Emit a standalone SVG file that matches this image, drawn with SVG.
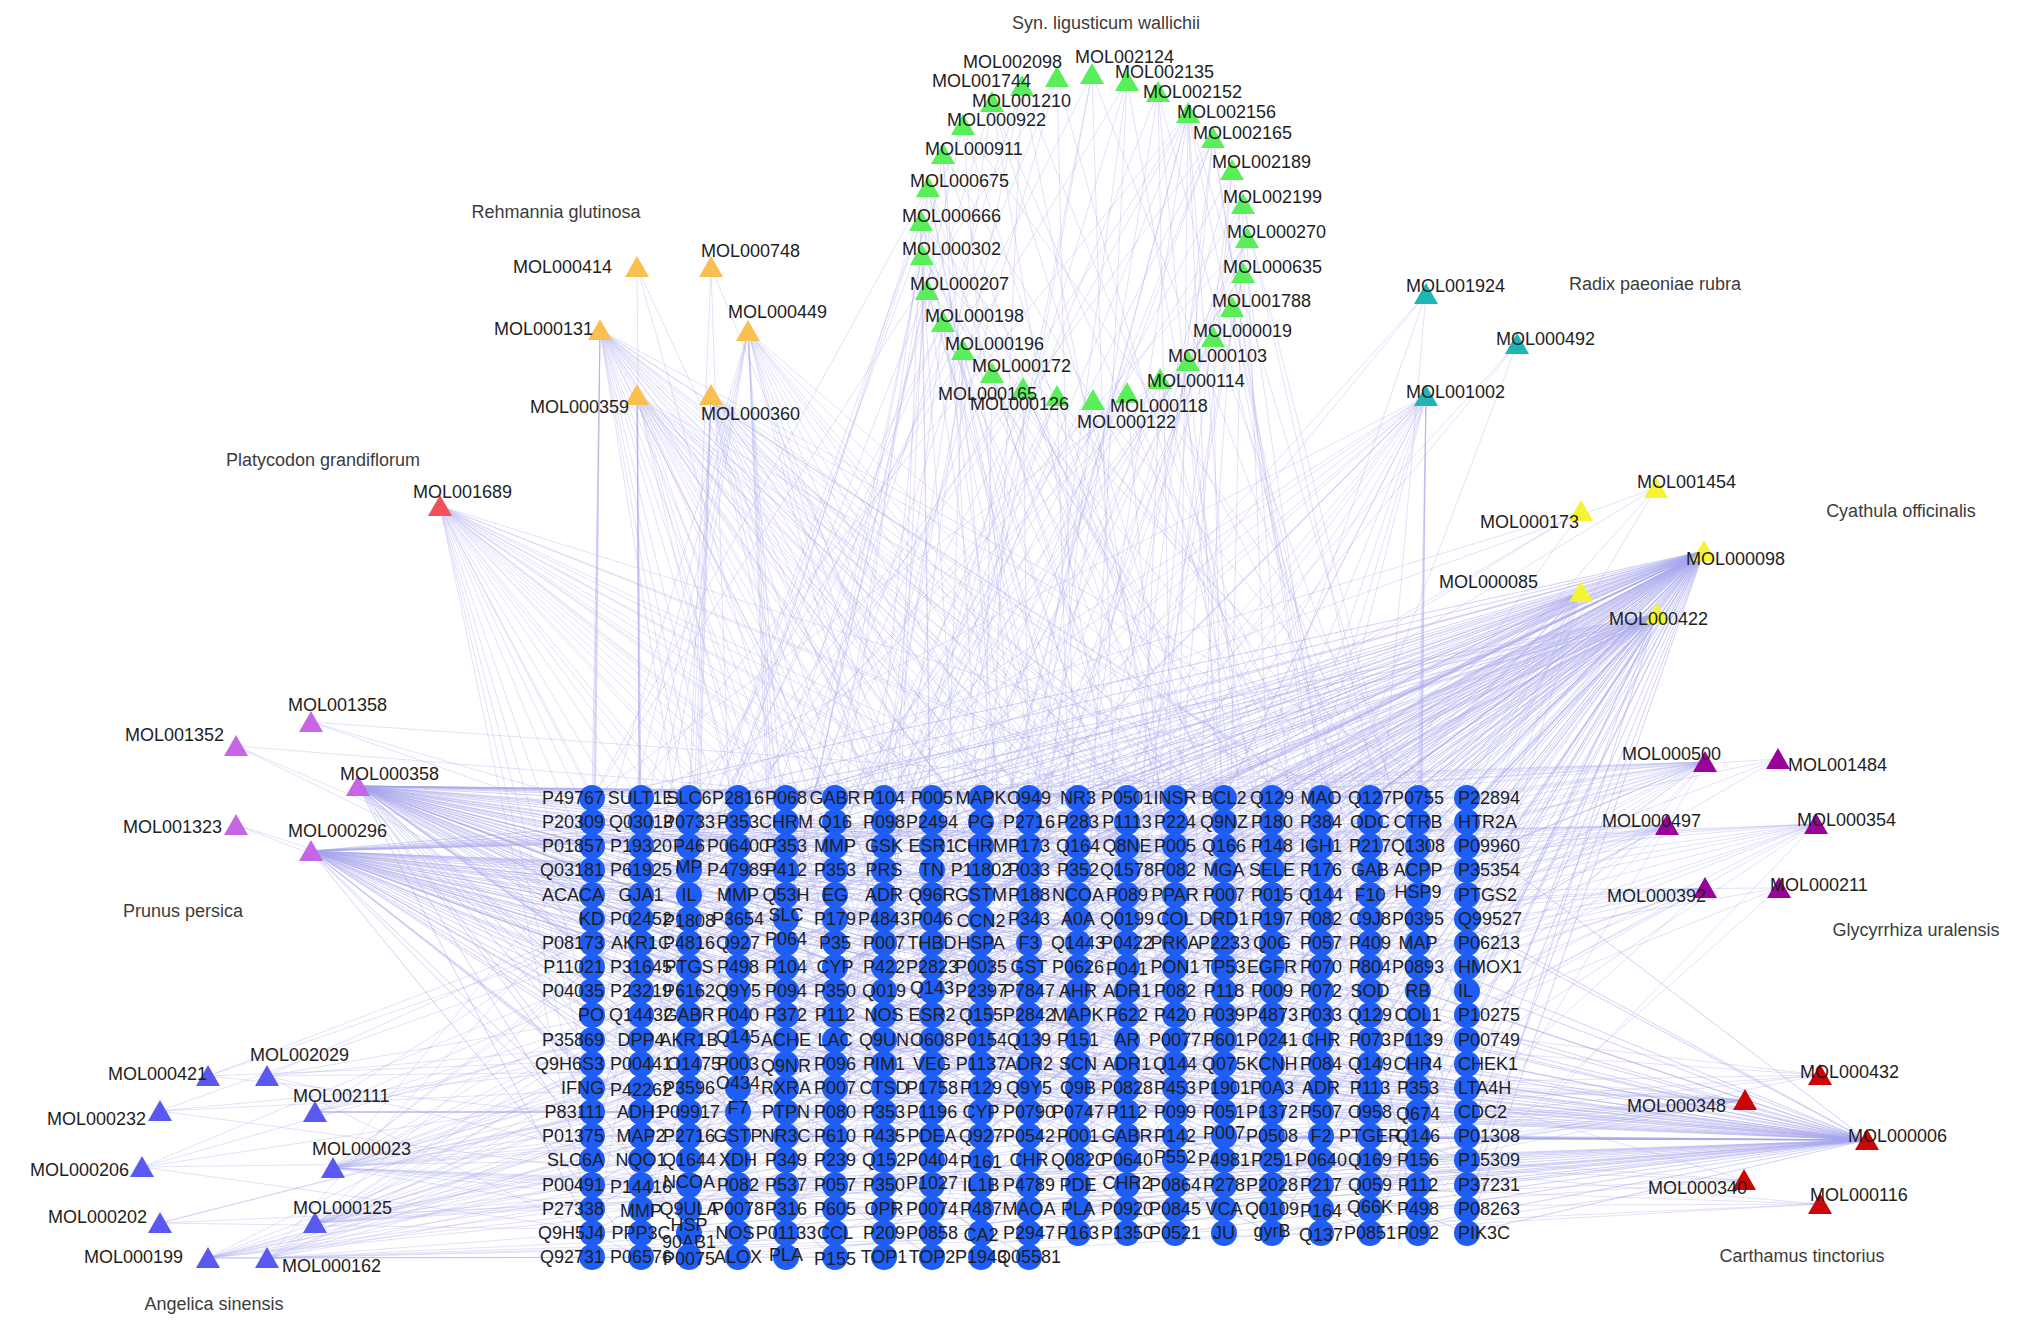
<svg xmlns="http://www.w3.org/2000/svg" width="2031" height="1327" viewBox="0 0 2031 1327">
<style>
text{font-family:"Liberation Sans",Arial,sans-serif;font-size:18px;fill:#1e1e1e}
#edges path{fill:none;stroke:#a6a6ee;stroke-opacity:.33;stroke-width:1}
#edges path.d{stroke-opacity:.5}
#grid circle{fill:#1f5ef6}
#grid text{text-anchor:middle}
#grid text.L{text-anchor:end}
#grid text.R{text-anchor:start}
.sp{fill:#3c3c3c;text-anchor:middle}
.gr{fill:#5bee5b}.or{fill:#f9c050}.pr{fill:#f2515b}.cy{fill:#1db5b5}.ye{fill:#f4f434}.pp{fill:#c865e6}.bl{fill:#5959f0}.dp{fill:#990399}.dr{fill:#cc0606}
</style>
<defs><path id="tri" d="M0-11L12 10H-12Z"/></defs>
<rect width="2031" height="1327" fill="#fff"/>
<g id="edges">
<path class="d" d="M1704 551L592 798M1704 551L689 798M1704 551L786 798M1704 551L884 798M1704 551L981 798M1704 551L1078 798M1704 551L1175 798M1704 551L1272 798M1704 551L1370 798M1704 551L1467 798M1704 551L592 846M1704 551L689 846M1704 551L786 846M1704 551L884 846M1704 551L981 846M1704 551L1078 846M1704 551L1175 846M1704 551L1272 846M1704 551L1370 846M1704 551L1467 846M1704 551L592 895M1704 551L689 895M1704 551L786 895M1704 551L884 895M1704 551L981 895M1704 551L1078 895M1704 551L1175 895M1704 551L1272 895M1704 551L1370 895M1704 551L1467 895M1704 551L592 943M1704 551L689 943M1704 551L786 943M1704 551L884 943M1704 551L981 943M1704 551L1078 943M1704 551L1175 943M1704 551L1272 943M1704 551L1370 943M1704 551L1467 943M1704 551L592 991M1704 551L689 991M1704 551L786 991M1704 551L884 991M1704 551L981 991M1704 551L1078 991M1704 551L1175 991M1704 551L1272 991M1704 551L1370 991M1704 551L1467 991M1704 551L592 1040M1704 551L689 1040M1704 551L786 1040M1704 551L884 1040M1704 551L981 1040M1704 551L1078 1040M1704 551L1175 1040M1704 551L1272 1040M1704 551L1370 1040M1704 551L1467 1040M1704 551L592 1088M1704 551L689 1088M1704 551L786 1088M1704 551L884 1088M1704 551L981 1088M1704 551L1078 1088M1704 551L1175 1088M1704 551L1272 1088M1704 551L1370 1088M1704 551L1467 1088M1704 551L592 1136M1704 551L689 1136M1704 551L786 1136M1704 551L884 1136M1704 551L981 1136M1704 551L1078 1136M1704 551L1175 1136M1704 551L1272 1136M1704 551L1370 1136M1704 551L1467 1136M1704 551L592 1185M1704 551L689 1185M1704 551L786 1185M1704 551L884 1185M1704 551L981 1185M1704 551L1078 1185M1704 551L1175 1185M1704 551L1272 1185M1704 551L1370 1185M1704 551L1467 1185M1704 551L592 1233M1704 551L689 1233M1704 551L786 1233M1704 551L884 1233M1704 551L981 1233M1704 551L1078 1233M1704 551L1175 1233M1704 551L1272 1233M1704 551L1370 1233M1704 551L1467 1233"/>
<path class="d" d="M1657 614L592 822M1657 614L689 822M1657 614L786 822M1657 614L884 822M1657 614L981 822M1657 614L1078 822M1657 614L1175 822M1657 614L1272 822M1657 614L1370 822M1657 614L1467 822M1657 614L592 919M1657 614L689 919M1657 614L786 919M1657 614L884 919M1657 614L981 919M1657 614L1078 919M1657 614L1175 919M1657 614L1272 919M1657 614L1370 919M1657 614L1467 919M1657 614L592 1015M1657 614L689 1015M1657 614L786 1015M1657 614L884 1015M1657 614L981 1015M1657 614L1078 1015M1657 614L1175 1015M1657 614L1272 1015M1657 614L1370 1015M1657 614L1467 1015M1657 614L592 1112M1657 614L689 1112M1657 614L786 1112M1657 614L884 1112M1657 614L981 1112M1657 614L1078 1112M1657 614L1175 1112M1657 614L1272 1112M1657 614L1370 1112M1657 614L1467 1112M1657 614L592 1209M1657 614L689 1209M1657 614L786 1209M1657 614L884 1209M1657 614L981 1209M1657 614L1078 1209M1657 614L1175 1209M1657 614L1272 1209M1657 614L1370 1209M1657 614L1467 1209"/>
<path d="M1581 592L641 870M1581 592L738 870M1581 592L835 870M1581 592L932 870M1581 592L1029 870M1581 592L1127 870M1581 592L1224 870M1581 592L1321 870M1581 592L1418 870M1581 592L641 967M1581 592L738 967M1581 592L835 967M1581 592L932 967M1581 592L1029 967M1581 592L1127 967M1581 592L1224 967M1581 592L1321 967M1581 592L1418 967M1581 592L641 1064M1581 592L738 1064M1581 592L835 1064M1581 592L932 1064M1581 592L1029 1064M1581 592L1127 1064M1581 592L1224 1064M1581 592L1321 1064M1581 592L1418 1064M1581 592L641 1160M1581 592L738 1160M1581 592L835 1160M1581 592L932 1160M1581 592L1029 1160M1581 592L1127 1160M1581 592L1224 1160M1581 592L1321 1160M1581 592L1418 1160"/>
<path d="M1656 488L592 870M1656 488L786 1015M1656 488L1078 1136M1656 488L1370 967"/>
<path d="M1581 511L641 798M1581 511L884 919M1581 511L1175 1088M1581 511L1029 846"/>
<path class="d" d="M1867 1140L592 1040M1867 1140L689 1040M1867 1140L786 1040M1867 1140L884 1040M1867 1140L981 1040M1867 1140L1078 1040M1867 1140L1175 1040M1867 1140L1272 1040M1867 1140L1370 1040M1867 1140L1467 1040M1867 1140L592 1088M1867 1140L689 1088M1867 1140L786 1088M1867 1140L884 1088M1867 1140L981 1088M1867 1140L1078 1088M1867 1140L1175 1088M1867 1140L1272 1088M1867 1140L1370 1088M1867 1140L1467 1088M1867 1140L592 1136M1867 1140L689 1136M1867 1140L786 1136M1867 1140L884 1136M1867 1140L981 1136M1867 1140L1078 1136M1867 1140L1175 1136M1867 1140L1272 1136M1867 1140L1370 1136M1867 1140L1467 1136M1867 1140L592 1185M1867 1140L689 1185M1867 1140L786 1185M1867 1140L884 1185M1867 1140L981 1185M1867 1140L1078 1185M1867 1140L1175 1185M1867 1140L1272 1185M1867 1140L1370 1185M1867 1140L1467 1185M1867 1140L592 1233M1867 1140L689 1233M1867 1140L786 1233M1867 1140L884 1233M1867 1140L981 1233M1867 1140L1078 1233M1867 1140L1175 1233M1867 1140L1272 1233M1867 1140L1370 1233M1867 1140L1467 1233M1867 1140L641 798M1867 1140L835 798M1867 1140L1029 798M1867 1140L1224 798M1867 1140L1418 798M1867 1140L641 895M1867 1140L835 895M1867 1140L1029 895M1867 1140L1224 895M1867 1140L1418 895M1867 1140L641 991M1867 1140L835 991M1867 1140L1029 991M1867 1140L1224 991M1867 1140L1418 991"/>
<path d="M1745 1100L641 1064M1745 1100L786 1064M1745 1100L932 1064M1745 1100L1078 1064M1745 1100L1224 1064M1745 1100L1370 1064M1745 1100L641 1160M1745 1100L786 1160M1745 1100L932 1160M1745 1100L1078 1160M1745 1100L1224 1160M1745 1100L1370 1160M1745 1100L641 1257M1745 1100L786 1257M1745 1100L932 1257"/>
<path d="M1820 1075L689 943M1820 1075L932 1015M1820 1075L1127 1088M1820 1075L835 1185M1820 1075L1321 1112M1820 1075L1029 1233"/>
<path d="M1744 1180L738 1112M1744 1180L981 1209M1744 1180L689 1257M1744 1180L1175 1160M1744 1180L1272 1040M1744 1180L1370 1233"/>
<path d="M1820 1204L592 1209M1820 1204L884 1257M1820 1204L1029 1136M1820 1204L1272 1185M1820 1204L1175 1233"/>
<path class="d" d="M358 786L592 798M358 786L689 798M358 786L786 798M358 786L884 798M358 786L981 798M358 786L1078 798M358 786L1175 798M358 786L1272 798M358 786L1370 798M358 786L1467 798M358 786L592 870M358 786L689 870M358 786L786 870M358 786L884 870M358 786L981 870M358 786L1078 870M358 786L1175 870M358 786L1272 870M358 786L1370 870M358 786L1467 870M358 786L592 943M358 786L689 943M358 786L786 943M358 786L884 943M358 786L981 943M358 786L1078 943M358 786L1175 943M358 786L1272 943M358 786L1370 943M358 786L1467 943M358 786L592 1015M358 786L689 1015M358 786L786 1015M358 786L884 1015M358 786L981 1015M358 786L1078 1015M358 786L1175 1015M358 786L1272 1015M358 786L1370 1015M358 786L1467 1015M358 786L592 1088M358 786L689 1088M358 786L786 1088M358 786L884 1088M358 786L981 1088M358 786L1078 1088M358 786L1175 1088M358 786L1272 1088M358 786L1370 1088M358 786L1467 1088M358 786L592 1160M358 786L689 1160M358 786L786 1160M358 786L884 1160M358 786L981 1160M358 786L1078 1160M358 786L1175 1160M358 786L1272 1160M358 786L1370 1160M358 786L1467 1160M358 786L592 1233M358 786L689 1233M358 786L786 1233M358 786L884 1233M358 786L981 1233M358 786L1078 1233M358 786L1175 1233M358 786L1272 1233M358 786L1370 1233M358 786L1467 1233"/>
<path class="d" d="M311 851L641 822M311 851L738 822M311 851L835 822M311 851L932 822M311 851L1029 822M311 851L1127 822M311 851L1224 822M311 851L1321 822M311 851L1418 822M311 851L641 895M311 851L738 895M311 851L835 895M311 851L932 895M311 851L1029 895M311 851L1127 895M311 851L1224 895M311 851L1321 895M311 851L1418 895M311 851L641 967M311 851L738 967M311 851L835 967M311 851L932 967M311 851L1029 967M311 851L1127 967M311 851L1224 967M311 851L1321 967M311 851L1418 967M311 851L641 1040M311 851L738 1040M311 851L835 1040M311 851L932 1040M311 851L1029 1040M311 851L1127 1040M311 851L1224 1040M311 851L1321 1040M311 851L1418 1040M311 851L641 1112M311 851L738 1112M311 851L835 1112M311 851L932 1112M311 851L1029 1112M311 851L1127 1112M311 851L1224 1112M311 851L1321 1112M311 851L1418 1112M311 851L641 1185M311 851L738 1185M311 851L835 1185M311 851L932 1185M311 851L1029 1185M311 851L1127 1185M311 851L1224 1185M311 851L1321 1185M311 851L1418 1185M311 851L641 1257M311 851L738 1257M311 851L835 1257M311 851L932 1257M311 851L1029 1257"/>
<path d="M311 722L738 846M311 722L1078 991M311 722L1370 798"/>
<path d="M236 746L641 919M236 746L884 1064M236 746L1175 822"/>
<path d="M236 825L689 967M236 825L981 1112"/>
<path d="M333 1168L592 846M333 1168L738 846M333 1168L884 846M333 1168L1029 846M333 1168L1175 846M333 1168L1321 846M333 1168L1467 846M333 1168L592 967M333 1168L738 967M333 1168L884 967M333 1168L1029 967M333 1168L1175 967M333 1168L1321 967M333 1168L1467 967M333 1168L592 1088M333 1168L738 1088M333 1168L884 1088M333 1168L1029 1088M333 1168L1175 1088M333 1168L1321 1088M333 1168L1467 1088M333 1168L592 1209M333 1168L738 1209M333 1168L884 1209M333 1168L1029 1209M333 1168L1175 1209M333 1168L1321 1209M333 1168L1467 1209"/>
<path d="M315 1223L641 919M315 1223L786 919M315 1223L932 919M315 1223L1078 919M315 1223L1224 919M315 1223L1370 919M315 1223L641 1040M315 1223L786 1040M315 1223L932 1040M315 1223L1078 1040M315 1223L1224 1040M315 1223L1370 1040M315 1223L641 1160M315 1223L786 1160M315 1223L932 1160M315 1223L1078 1160M315 1223L1224 1160M315 1223L1370 1160"/>
<path d="M208 1258L689 1015M208 1258L835 1015M208 1258L981 1015M208 1258L1127 1015M208 1258L1272 1015M208 1258L1418 1015M208 1258L689 1136M208 1258L835 1136M208 1258L981 1136M208 1258L1127 1136M208 1258L1272 1136M208 1258L1418 1136M208 1258L689 1257M208 1258L835 1257M208 1258L981 1257"/>
<path d="M267 1258L592 895M267 1258L786 895M267 1258L981 895M267 1258L1175 895M267 1258L1370 895M267 1258L592 1064M267 1258L786 1064M267 1258L981 1064M267 1258L1175 1064M267 1258L1370 1064M267 1258L592 1233M267 1258L786 1233M267 1258L981 1233M267 1258L1175 1233M267 1258L1370 1233"/>
<path d="M315 1112L689 870M315 1112L884 870M315 1112L1078 870M315 1112L1272 870M315 1112L1467 870M315 1112L689 1112M315 1112L884 1112M315 1112L1078 1112M315 1112L1272 1112M315 1112L1467 1112"/>
<path d="M267 1076L835 822M267 1076L1029 943M267 1076L1224 991M267 1076L738 1185M267 1076L641 1257M267 1076L1321 1064"/>
<path d="M208 1076L932 798M208 1076L592 943M208 1076L786 1136M208 1076L1127 1040"/>
<path d="M160 1111L835 870M160 1111L641 1088M160 1111L884 1209M160 1111L1418 991"/>
<path d="M142 1167L738 919M142 1167L981 1040M142 1167L689 1160M142 1167L786 1257M142 1167L1272 846"/>
<path d="M160 1223L592 1112M160 1223L835 1233M160 1223L1175 967M160 1223L1029 1185"/>
<path d="M1705 762L592 798M1705 762L738 798M1705 762L884 798M1705 762L1029 798M1705 762L1175 798M1705 762L1321 798M1705 762L1467 798M1705 762L592 919M1705 762L738 919M1705 762L884 919M1705 762L1029 919M1705 762L1175 919M1705 762L1321 919M1705 762L1467 919M1705 762L592 1040M1705 762L738 1040M1705 762L884 1040M1705 762L1029 1040M1705 762L1175 1040M1705 762L1321 1040M1705 762L1467 1040M1705 762L592 1160M1705 762L738 1160M1705 762L884 1160M1705 762L1029 1160M1705 762L1175 1160M1705 762L1321 1160M1705 762L1467 1160"/>
<path d="M1667 825L641 846M1667 825L786 846M1667 825L932 846M1667 825L1078 846M1667 825L1224 846M1667 825L1370 846M1667 825L641 991M1667 825L786 991M1667 825L932 991M1667 825L1078 991M1667 825L1224 991M1667 825L1370 991M1667 825L641 1136M1667 825L786 1136M1667 825L932 1136M1667 825L1078 1136M1667 825L1224 1136M1667 825L1370 1136"/>
<path d="M1816 824L689 870M1816 824L884 870M1816 824L1078 870M1816 824L1272 870M1816 824L1467 870M1816 824L689 1015M1816 824L884 1015M1816 824L1078 1015M1816 824L1272 1015M1816 824L1467 1015M1816 824L689 1185M1816 824L884 1185M1816 824L1078 1185M1816 824L1272 1185M1816 824L1467 1185"/>
<path d="M1705 888L592 943M1705 888L835 943M1705 888L1078 943M1705 888L1321 943M1705 888L592 1088M1705 888L835 1088M1705 888L1078 1088M1705 888L1321 1088M1705 888L592 1233M1705 888L835 1233M1705 888L1078 1233M1705 888L1321 1233"/>
<path d="M1778 759L786 822M1778 759L1127 895M1778 759L1418 967M1778 759L981 1064"/>
<path d="M1779 888L641 895M1779 888L884 1040M1779 888L1224 1112M1779 888L1418 1209"/>
<path d="M600 330L592 798M600 330L738 798M600 330L884 798M600 330L1029 798M600 330L1175 798M600 330L1321 798M600 330L1467 798M600 330L592 895M600 330L738 895M600 330L884 895M600 330L1029 895M600 330L1175 895M600 330L1321 895M600 330L1467 895M600 330L592 991M600 330L738 991M600 330L884 991M600 330L1029 991M600 330L1175 991M600 330L1321 991M600 330L1467 991M600 330L592 1088M600 330L738 1088M600 330L884 1088M600 330L1029 1088M600 330L1175 1088M600 330L1321 1088M600 330L1467 1088M600 330L592 1185M600 330L738 1185M600 330L884 1185M600 330L1029 1185M600 330L1175 1185M600 330L1321 1185M600 330L1467 1185"/>
<path d="M637 395L641 846M637 395L835 846M637 395L1029 846M637 395L1224 846M637 395L1418 846M637 395L641 943M637 395L835 943M637 395L1029 943M637 395L1224 943M637 395L1418 943M637 395L641 1040M637 395L835 1040M637 395L1029 1040M637 395L1224 1040M637 395L1418 1040M637 395L641 1136M637 395L835 1136M637 395L1029 1136M637 395L1224 1136M637 395L1418 1136M637 395L641 1233M637 395L835 1233M637 395L1029 1233M637 395L1224 1233M637 395L1418 1233"/>
<path d="M711 395L689 822M711 395L884 822M711 395L1078 822M711 395L1272 822M711 395L1467 822M711 395L689 919M711 395L884 919M711 395L1078 919M711 395L1272 919M711 395L1467 919M711 395L689 1015M711 395L884 1015M711 395L1078 1015M711 395L1272 1015M711 395L1467 1015M711 395L689 1112M711 395L884 1112M711 395L1078 1112M711 395L1272 1112M711 395L1467 1112M711 395L689 1209M711 395L884 1209M711 395L1078 1209M711 395L1272 1209M711 395L1467 1209"/>
<path d="M748 331L592 870M748 331L786 870M748 331L981 870M748 331L1175 870M748 331L1370 870M748 331L592 967M748 331L786 967M748 331L981 967M748 331L1175 967M748 331L1370 967M748 331L592 1064M748 331L786 1064M748 331L981 1064M748 331L1175 1064M748 331L1370 1064M748 331L592 1160M748 331L786 1160M748 331L981 1160M748 331L1175 1160M748 331L1370 1160M748 331L592 1257M748 331L786 1257M748 331L981 1257"/>
<path d="M637 267L641 822M637 267L835 967M637 267L1029 1112"/>
<path d="M711 267L689 798M711 267L981 919M711 267L738 1064"/>
<path d="M440 506L592 798M440 506L786 798M440 506L981 798M440 506L1175 798M440 506L1370 798M440 506L592 870M440 506L786 870M440 506L981 870M440 506L1175 870M440 506L1370 870M440 506L592 943M440 506L786 943M440 506L981 943M440 506L1175 943M440 506L1370 943M440 506L592 1015M440 506L786 1015M440 506L981 1015M440 506L1175 1015M440 506L1370 1015M440 506L592 1088M440 506L786 1088M440 506L981 1088M440 506L1175 1088M440 506L1370 1088M440 506L592 1160M440 506L786 1160M440 506L981 1160M440 506L1175 1160M440 506L1370 1160M440 506L592 1233M440 506L786 1233M440 506L981 1233M440 506L1175 1233M440 506L1370 1233"/>
<path d="M1426 396L641 798M1426 396L835 798M1426 396L1029 798M1426 396L1224 798M1426 396L1418 798M1426 396L641 895M1426 396L835 895M1426 396L1029 895M1426 396L1224 895M1426 396L1418 895M1426 396L641 991M1426 396L835 991M1426 396L1029 991M1426 396L1224 991M1426 396L1418 991M1426 396L641 1088M1426 396L835 1088M1426 396L1029 1088M1426 396L1224 1088M1426 396L1418 1088M1426 396L641 1185M1426 396L835 1185M1426 396L1029 1185M1426 396L1224 1185M1426 396L1418 1185"/>
<path d="M1426 294L932 846M1426 294L1175 1015M1426 294L738 1136M1426 294L1370 943"/>
<path d="M1517 344L1078 822M1517 344L1272 991M1517 344L884 1112"/>
<path d="M1057 77L592 798M1057 77L835 870M1057 77L1078 943M1057 77L1321 1015M1057 77L641 1088"/>
<path d="M1022 86L738 967M1022 86L981 1040M1022 86L1224 1112M1022 86L1467 1185M1022 86L786 1257"/>
<path d="M1092 74L884 1136M1092 74L1127 1209M1092 74L1370 798M1092 74L689 870M1092 74L932 943"/>
<path d="M1127 81L1029 822M1127 81L1272 895M1127 81L592 967M1127 81L835 1040M1127 81L1078 1112"/>
<path d="M1158 92L1175 991M1158 92L1418 1064M1158 92L738 1136M1158 92L981 1209M1158 92L1224 798"/>
<path d="M992 102L1321 1160M992 102L641 1233M992 102L884 822M992 102L1127 895M992 102L1370 967"/>
<path d="M963 125L1467 846M963 125L786 919M963 125L1029 991M963 125L1272 1064M963 125L592 1136"/>
<path d="M1188 113L689 1015M1188 113L932 1088M1188 113L1175 1160M1188 113L1418 1233M1188 113L738 822M1188 113L981 895M1188 113L1224 967M1188 113L1467 1040M1188 113L786 1112M1188 113L1029 1185M1188 113L1272 1233M1188 113L592 846"/>
<path d="M1213 138L835 1185M1213 138L1078 1233M1213 138L1321 846M1213 138L641 919M1213 138L884 991M1213 138L1127 1064M1213 138L1370 1136M1213 138L689 1209"/>
<path d="M943 154L981 870M943 154L1224 943M943 154L1467 1015M943 154L786 1088M943 154L1029 1160"/>
<path d="M1232 170L1127 1040M1232 170L1370 1112M1232 170L689 1185M1232 170L932 1257M1232 170L1175 846"/>
<path d="M928 187L1272 1209M928 187L592 798M928 187L835 870M928 187L1078 943M928 187L1321 1015M928 187L641 1088M928 187L884 1160M928 187L1127 1233"/>
<path d="M1243 204L1418 895M1243 204L738 967M1243 204L981 1040M1243 204L1224 1112M1243 204L1467 1185"/>
<path d="M921 221L641 1064M921 221L884 1136M921 221L1127 1209M921 221L1370 798M921 221L689 870M921 221L932 943M921 221L1175 1015M921 221L1418 1088"/>
<path d="M1247 238L786 1233M1247 238L1029 822M1247 238L1272 895M1247 238L592 967M1247 238L835 1040"/>
<path d="M922 255L932 919M922 255L1175 991M922 255L1418 1064M922 255L738 1136M922 255L981 1209M922 255L1224 798M922 255L1467 870M922 255L786 943"/>
<path d="M1243 273L1078 1088M1243 273L1321 1160M1243 273L641 1233M1243 273L884 822M1243 273L1127 895"/>
<path d="M927 290L1224 1233M927 290L1467 846M927 290L786 919M927 290L1029 991M927 290L1272 1064M927 290L592 1136M927 290L835 1209M927 290L1078 798"/>
<path d="M1232 307L1370 943M1232 307L689 1015M1232 307L932 1088M1232 307L1175 1160M1232 307L1418 1233"/>
<path d="M943 322L592 1112M943 322L835 1185M943 322L1078 1233M943 322L1321 846M943 322L641 919"/>
<path d="M1213 337L738 798M1213 337L981 870M1213 337L1224 943M1213 337L1467 1015M1213 337L786 1088"/>
<path d="M963 350L884 967M963 350L1127 1040M963 350L1370 1112M963 350L689 1185M963 350L932 1257"/>
<path d="M1188 361L1029 1136M1188 361L1272 1209M1188 361L592 798M1188 361L835 870M1188 361L1078 943"/>
<path d="M992 373L1175 822M992 373L1418 895M992 373L738 967M992 373L981 1040M992 373L1224 1112"/>
<path d="M1160 379L1321 991M1160 379L641 1064M1160 379L884 1136M1160 379L1127 1209M1160 379L1370 798"/>
<path d="M1023 388L1467 1160M1023 388L786 1233M1023 388L1029 822M1023 388L1272 895M1023 388L592 967"/>
<path d="M1127 393L689 846M1127 393L932 919M1127 393L1175 991M1127 393L1418 1064M1127 393L738 1136"/>
<path d="M1057 396L835 1015M1057 396L1078 1088M1057 396L1321 1160M1057 396L641 1233M1057 396L884 822"/>
<path d="M1093 400L981 1185M1093 400L1224 1233M1093 400L1467 846M1093 400L786 919M1093 400L1029 991"/>
</g>
<g id="group-labels">
<text class="sp" x="1106" y="29">Syn. ligusticum wallichii</text>
<text class="sp" x="556" y="218">Rehmannia glutinosa</text>
<text class="sp" x="323" y="466">Platycodon grandiflorum</text>
<text class="sp" x="1655" y="290">Radix paeoniae rubra</text>
<text class="sp" x="1901" y="517">Cyathula officinalis</text>
<text class="sp" x="183" y="917">Prunus persica</text>
<text class="sp" x="1916" y="936">Glycyrrhiza uralensis</text>
<text class="sp" x="214" y="1310">Angelica sinensis</text>
<text class="sp" x="1802" y="1262">Carthamus tinctorius</text>
</g>
<g id="compounds">
<g id="MOL002098"><use href="#tri" x="1057" y="77" class="gr"/><text x="963" y="68">MOL002098</text></g>
<g id="MOL001744"><use href="#tri" x="1022" y="86" class="gr"/><text x="932" y="87">MOL001744</text></g>
<g id="MOL002124"><use href="#tri" x="1092" y="74" class="gr"/><text x="1075" y="63">MOL002124</text></g>
<g id="MOL002135"><use href="#tri" x="1127" y="81" class="gr"/><text x="1115" y="78">MOL002135</text></g>
<g id="MOL002152"><use href="#tri" x="1158" y="92" class="gr"/><text x="1143" y="98">MOL002152</text></g>
<g id="MOL001210"><use href="#tri" x="992" y="102" class="gr"/><text x="972" y="107">MOL001210</text></g>
<g id="MOL000922"><use href="#tri" x="963" y="125" class="gr"/><text x="947" y="126">MOL000922</text></g>
<g id="MOL002156"><use href="#tri" x="1188" y="113" class="gr"/><text x="1177" y="118">MOL002156</text></g>
<g id="MOL002165"><use href="#tri" x="1213" y="138" class="gr"/><text x="1193" y="139">MOL002165</text></g>
<g id="MOL000911"><use href="#tri" x="943" y="154" class="gr"/><text x="925" y="155">MOL000911</text></g>
<g id="MOL002189"><use href="#tri" x="1232" y="170" class="gr"/><text x="1212" y="168">MOL002189</text></g>
<g id="MOL000675"><use href="#tri" x="928" y="187" class="gr"/><text x="910" y="187">MOL000675</text></g>
<g id="MOL002199"><use href="#tri" x="1243" y="204" class="gr"/><text x="1223" y="203">MOL002199</text></g>
<g id="MOL000666"><use href="#tri" x="921" y="221" class="gr"/><text x="902" y="222">MOL000666</text></g>
<g id="MOL000270"><use href="#tri" x="1247" y="238" class="gr"/><text x="1227" y="238">MOL000270</text></g>
<g id="MOL000302"><use href="#tri" x="922" y="255" class="gr"/><text x="902" y="255">MOL000302</text></g>
<g id="MOL000635"><use href="#tri" x="1243" y="273" class="gr"/><text x="1223" y="273">MOL000635</text></g>
<g id="MOL000207"><use href="#tri" x="927" y="290" class="gr"/><text x="910" y="290">MOL000207</text></g>
<g id="MOL001788"><use href="#tri" x="1232" y="307" class="gr"/><text x="1212" y="307">MOL001788</text></g>
<g id="MOL000198"><use href="#tri" x="943" y="322" class="gr"/><text x="925" y="322">MOL000198</text></g>
<g id="MOL000019"><use href="#tri" x="1213" y="337" class="gr"/><text x="1193" y="337">MOL000019</text></g>
<g id="MOL000196"><use href="#tri" x="963" y="350" class="gr"/><text x="945" y="350">MOL000196</text></g>
<g id="MOL000103"><use href="#tri" x="1188" y="361" class="gr"/><text x="1168" y="362">MOL000103</text></g>
<g id="MOL000172"><use href="#tri" x="992" y="373" class="gr"/><text x="972" y="372">MOL000172</text></g>
<g id="MOL000114"><use href="#tri" x="1160" y="379" class="gr"/><text x="1147" y="387">MOL000114</text></g>
<g id="MOL000165"><use href="#tri" x="1023" y="388" class="gr"/><text x="938" y="400">MOL000165</text></g>
<g id="MOL000118"><use href="#tri" x="1127" y="393" class="gr"/><text x="1110" y="412">MOL000118</text></g>
<g id="MOL000126"><use href="#tri" x="1057" y="396" class="gr"/><text x="970" y="410">MOL000126</text></g>
<g id="MOL000122"><use href="#tri" x="1093" y="400" class="gr"/><text x="1077" y="428">MOL000122</text></g>
<g id="MOL000414"><use href="#tri" x="637" y="267" class="or"/><text x="513" y="273">MOL000414</text></g>
<g id="MOL000748"><use href="#tri" x="711" y="267" class="or"/><text x="701" y="257">MOL000748</text></g>
<g id="MOL000131"><use href="#tri" x="600" y="330" class="or"/><text x="494" y="335">MOL000131</text></g>
<g id="MOL000449"><use href="#tri" x="748" y="331" class="or"/><text x="728" y="318">MOL000449</text></g>
<g id="MOL000359"><use href="#tri" x="637" y="395" class="or"/><text x="530" y="413">MOL000359</text></g>
<g id="MOL000360"><use href="#tri" x="711" y="395" class="or"/><text x="701" y="420">MOL000360</text></g>
<g id="MOL001689"><use href="#tri" x="440" y="506" class="pr"/><text x="413" y="498">MOL001689</text></g>
<g id="MOL001924"><use href="#tri" x="1426" y="294" class="cy"/><text x="1406" y="292">MOL001924</text></g>
<g id="MOL000492"><use href="#tri" x="1517" y="344" class="cy"/><text x="1496" y="345">MOL000492</text></g>
<g id="MOL001002"><use href="#tri" x="1426" y="396" class="cy"/><text x="1406" y="398">MOL001002</text></g>
<g id="MOL001454"><use href="#tri" x="1656" y="488" class="ye"/><text x="1637" y="488">MOL001454</text></g>
<g id="MOL000173"><use href="#tri" x="1581" y="511" class="ye"/><text x="1480" y="528">MOL000173</text></g>
<g id="MOL000098"><use href="#tri" x="1704" y="551" class="ye"/><text x="1686" y="565">MOL000098</text></g>
<g id="MOL000085"><use href="#tri" x="1581" y="592" class="ye"/><text x="1439" y="588">MOL000085</text></g>
<g id="MOL000422"><use href="#tri" x="1657" y="614" class="ye"/><text x="1609" y="625">MOL000422</text></g>
<g id="MOL001358"><use href="#tri" x="311" y="722" class="pp"/><text x="288" y="711">MOL001358</text></g>
<g id="MOL001352"><use href="#tri" x="236" y="746" class="pp"/><text x="125" y="741">MOL001352</text></g>
<g id="MOL000358"><use href="#tri" x="358" y="786" class="pp"/><text x="340" y="780">MOL000358</text></g>
<g id="MOL001323"><use href="#tri" x="236" y="825" class="pp"/><text x="123" y="833">MOL001323</text></g>
<g id="MOL000296"><use href="#tri" x="311" y="851" class="pp"/><text x="288" y="837">MOL000296</text></g>
<g id="MOL002029"><use href="#tri" x="267" y="1076" class="bl"/><text x="250" y="1061">MOL002029</text></g>
<g id="MOL000421"><use href="#tri" x="208" y="1076" class="bl"/><text x="108" y="1080">MOL000421</text></g>
<g id="MOL000232"><use href="#tri" x="160" y="1111" class="bl"/><text x="47" y="1125">MOL000232</text></g>
<g id="MOL002111"><use href="#tri" x="315" y="1112" class="bl"/><text x="293" y="1102">MOL002111</text></g>
<g id="MOL000206"><use href="#tri" x="142" y="1167" class="bl"/><text x="30" y="1176">MOL000206</text></g>
<g id="MOL000023"><use href="#tri" x="333" y="1168" class="bl"/><text x="312" y="1155">MOL000023</text></g>
<g id="MOL000202"><use href="#tri" x="160" y="1223" class="bl"/><text x="48" y="1223">MOL000202</text></g>
<g id="MOL000125"><use href="#tri" x="315" y="1223" class="bl"/><text x="293" y="1214">MOL000125</text></g>
<g id="MOL000199"><use href="#tri" x="208" y="1258" class="bl"/><text x="84" y="1263">MOL000199</text></g>
<g id="MOL000162"><use href="#tri" x="267" y="1258" class="bl"/><text x="282" y="1272">MOL000162</text></g>
<g id="MOL000500"><use href="#tri" x="1705" y="762" class="dp"/><text x="1622" y="760">MOL000500</text></g>
<g id="MOL001484"><use href="#tri" x="1778" y="759" class="dp"/><text x="1788" y="771">MOL001484</text></g>
<g id="MOL000497"><use href="#tri" x="1667" y="825" class="dp"/><text x="1602" y="827">MOL000497</text></g>
<g id="MOL000354"><use href="#tri" x="1816" y="824" class="dp"/><text x="1797" y="826">MOL000354</text></g>
<g id="MOL000392"><use href="#tri" x="1705" y="888" class="dp"/><text x="1607" y="902">MOL000392</text></g>
<g id="MOL000211"><use href="#tri" x="1779" y="888" class="dp"/><text x="1770" y="891">MOL000211</text></g>
<g id="MOL000432"><use href="#tri" x="1820" y="1075" class="dr"/><text x="1800" y="1078">MOL000432</text></g>
<g id="MOL000348"><use href="#tri" x="1745" y="1100" class="dr"/><text x="1627" y="1112">MOL000348</text></g>
<g id="MOL000006"><use href="#tri" x="1867" y="1140" class="dr"/><text x="1848" y="1142">MOL000006</text></g>
<g id="MOL000340"><use href="#tri" x="1744" y="1180" class="dr"/><text x="1648" y="1194">MOL000340</text></g>
<g id="MOL000116"><use href="#tri" x="1820" y="1204" class="dr"/><text x="1810" y="1201">MOL000116</text></g>
</g>
<g id="grid">
<g id="t0_0"><circle cx="592" cy="798" r="13"/><text x="604" y="804" class="L">P49767</text></g>
<g id="t0_1"><circle cx="641" cy="798" r="13"/><text x="641" y="804">SULT1E</text></g>
<g id="t0_2"><circle cx="689" cy="798" r="13"/><text x="689" y="804">SLC6</text></g>
<g id="t0_3"><circle cx="738" cy="798" r="13"/><text x="738" y="804">P2816</text></g>
<g id="t0_4"><circle cx="786" cy="798" r="13"/><text x="786" y="804">P068</text></g>
<g id="t0_5"><circle cx="835" cy="798" r="13"/><text x="835" y="804">GABR</text></g>
<g id="t0_6"><circle cx="884" cy="798" r="13"/><text x="884" y="804">P104</text></g>
<g id="t0_7"><circle cx="932" cy="798" r="13"/><text x="932" y="804">P005</text></g>
<g id="t0_8"><circle cx="981" cy="798" r="13"/><text x="981" y="804">MAPK</text></g>
<g id="t0_9"><circle cx="1029" cy="798" r="13"/><text x="1029" y="804">O949</text></g>
<g id="t0_10"><circle cx="1078" cy="798" r="13"/><text x="1078" y="804">NR3</text></g>
<g id="t0_11"><circle cx="1127" cy="798" r="13"/><text x="1127" y="804">P0501</text></g>
<g id="t0_12"><circle cx="1175" cy="798" r="13"/><text x="1175" y="804">INSR</text></g>
<g id="t0_13"><circle cx="1224" cy="798" r="13"/><text x="1224" y="804">BCL2</text></g>
<g id="t0_14"><circle cx="1272" cy="798" r="13"/><text x="1272" y="804">Q129</text></g>
<g id="t0_15"><circle cx="1321" cy="798" r="13"/><text x="1321" y="804">MAO</text></g>
<g id="t0_16"><circle cx="1370" cy="798" r="13"/><text x="1370" y="804">Q127</text></g>
<g id="t0_17"><circle cx="1418" cy="798" r="13"/><text x="1418" y="804">P0755</text></g>
<g id="t0_18"><circle cx="1467" cy="798" r="13"/><text x="1458" y="804" class="R">P22894</text></g>
<g id="t1_0"><circle cx="592" cy="822" r="13"/><text x="604" y="828" class="L">P20309</text></g>
<g id="t1_1"><circle cx="641" cy="822" r="13"/><text x="641" y="828">Q03013</text></g>
<g id="t1_2"><circle cx="689" cy="822" r="13"/><text x="689" y="828">P0733</text></g>
<g id="t1_3"><circle cx="738" cy="822" r="13"/><text x="738" y="828">P353</text></g>
<g id="t1_4"><circle cx="786" cy="822" r="13"/><text x="786" y="828">CHRM</text></g>
<g id="t1_5"><circle cx="835" cy="822" r="13"/><text x="835" y="828">Q16</text></g>
<g id="t1_6"><circle cx="884" cy="822" r="13"/><text x="884" y="828">P098</text></g>
<g id="t1_7"><circle cx="932" cy="822" r="13"/><text x="932" y="828">P2494</text></g>
<g id="t1_8"><circle cx="981" cy="822" r="13"/><text x="981" y="828">PG</text></g>
<g id="t1_9"><circle cx="1029" cy="822" r="13"/><text x="1029" y="828">P2716</text></g>
<g id="t1_10"><circle cx="1078" cy="822" r="13"/><text x="1078" y="828">P283</text></g>
<g id="t1_11"><circle cx="1127" cy="822" r="13"/><text x="1127" y="828">P1113</text></g>
<g id="t1_12"><circle cx="1175" cy="822" r="13"/><text x="1175" y="828">P224</text></g>
<g id="t1_13"><circle cx="1224" cy="822" r="13"/><text x="1224" y="828">Q9NZ</text></g>
<g id="t1_14"><circle cx="1272" cy="822" r="13"/><text x="1272" y="828">P180</text></g>
<g id="t1_15"><circle cx="1321" cy="822" r="13"/><text x="1321" y="828">P384</text></g>
<g id="t1_16"><circle cx="1370" cy="822" r="13"/><text x="1370" y="828">ODC</text></g>
<g id="t1_17"><circle cx="1418" cy="822" r="13"/><text x="1418" y="828">CTRB</text></g>
<g id="t1_18"><circle cx="1467" cy="822" r="13"/><text x="1458" y="828" class="R">HTR2A</text></g>
<g id="t2_0"><circle cx="592" cy="846" r="13"/><text x="604" y="852" class="L">P01857</text></g>
<g id="t2_1"><circle cx="641" cy="846" r="13"/><text x="641" y="852">P19320</text></g>
<g id="t2_2"><circle cx="689" cy="846" r="13"/><text x="689" y="852">P46</text></g>
<g id="t2_3"><circle cx="738" cy="846" r="13"/><text x="738" y="852">P06400</text></g>
<g id="t2_4"><circle cx="786" cy="846" r="13"/><text x="786" y="852">P353</text></g>
<g id="t2_5"><circle cx="835" cy="846" r="13"/><text x="835" y="852">MMP</text></g>
<g id="t2_6"><circle cx="884" cy="846" r="13"/><text x="884" y="852">GSK</text></g>
<g id="t2_7"><circle cx="932" cy="846" r="13"/><text x="932" y="852">ESR1</text></g>
<g id="t2_8"><circle cx="981" cy="846" r="13"/><text x="981" y="852">CHRM</text></g>
<g id="t2_9"><circle cx="1029" cy="846" r="13"/><text x="1029" y="852">P173</text></g>
<g id="t2_10"><circle cx="1078" cy="846" r="13"/><text x="1078" y="852">Q164</text></g>
<g id="t2_11"><circle cx="1127" cy="846" r="13"/><text x="1127" y="852">Q8NE</text></g>
<g id="t2_12"><circle cx="1175" cy="846" r="13"/><text x="1175" y="852">P005</text></g>
<g id="t2_13"><circle cx="1224" cy="846" r="13"/><text x="1224" y="852">Q166</text></g>
<g id="t2_14"><circle cx="1272" cy="846" r="13"/><text x="1272" y="852">P148</text></g>
<g id="t2_15"><circle cx="1321" cy="846" r="13"/><text x="1321" y="852">IGH1</text></g>
<g id="t2_16"><circle cx="1370" cy="846" r="13"/><text x="1370" y="852">P217</text></g>
<g id="t2_17"><circle cx="1418" cy="846" r="13"/><text x="1418" y="852">Q1308</text></g>
<g id="t2_18"><circle cx="1467" cy="846" r="13"/><text x="1458" y="852" class="R">P09960</text></g>
<g id="t3_0"><circle cx="592" cy="870" r="13"/><text x="604" y="876" class="L">Q03181</text></g>
<g id="t3_1"><circle cx="641" cy="870" r="13"/><text x="641" y="876">P61925</text></g>
<g id="t3_2"><circle cx="689" cy="870" r="13"/><text x="689" y="873">MP</text></g>
<g id="t3_3"><circle cx="738" cy="870" r="13"/><text x="738" y="876">P47989</text></g>
<g id="t3_4"><circle cx="786" cy="870" r="13"/><text x="786" y="876">P412</text></g>
<g id="t3_5"><circle cx="835" cy="870" r="13"/><text x="835" y="876">P353</text></g>
<g id="t3_6"><circle cx="884" cy="870" r="13"/><text x="884" y="876">PRS</text></g>
<g id="t3_7"><circle cx="932" cy="870" r="13"/><text x="932" y="876">TN</text></g>
<g id="t3_8"><circle cx="981" cy="870" r="13"/><text x="981" y="876">P11802</text></g>
<g id="t3_9"><circle cx="1029" cy="870" r="13"/><text x="1029" y="876">P033</text></g>
<g id="t3_10"><circle cx="1078" cy="870" r="13"/><text x="1078" y="876">P352</text></g>
<g id="t3_11"><circle cx="1127" cy="870" r="13"/><text x="1127" y="876">Q1578</text></g>
<g id="t3_12"><circle cx="1175" cy="870" r="13"/><text x="1175" y="876">P082</text></g>
<g id="t3_13"><circle cx="1224" cy="870" r="13"/><text x="1224" y="876">MGA</text></g>
<g id="t3_14"><circle cx="1272" cy="870" r="13"/><text x="1272" y="876">SELE</text></g>
<g id="t3_15"><circle cx="1321" cy="870" r="13"/><text x="1321" y="876">P176</text></g>
<g id="t3_16"><circle cx="1370" cy="870" r="13"/><text x="1370" y="876">GAB</text></g>
<g id="t3_17"><circle cx="1418" cy="870" r="13"/><text x="1418" y="876">ACPP</text></g>
<g id="t3_18"><circle cx="1467" cy="870" r="13"/><text x="1458" y="876" class="R">P35354</text></g>
<g id="t4_0"><circle cx="592" cy="895" r="13"/><text x="604" y="901" class="L">ACACA</text></g>
<g id="t4_1"><circle cx="641" cy="895" r="13"/><text x="641" y="901">GJA1</text></g>
<g id="t4_2"><circle cx="689" cy="895" r="13"/><text x="689" y="901">IL</text></g>
<g id="t4_3"><circle cx="738" cy="895" r="13"/><text x="738" y="901">MMP</text></g>
<g id="t4_4"><circle cx="786" cy="895" r="13"/><text x="786" y="901">Q53H</text></g>
<g id="t4_5"><circle cx="835" cy="895" r="13"/><text x="835" y="901">EG</text></g>
<g id="t4_6"><circle cx="884" cy="895" r="13"/><text x="884" y="901">ADR</text></g>
<g id="t4_7"><circle cx="932" cy="895" r="13"/><text x="932" y="901">Q96R</text></g>
<g id="t4_8"><circle cx="981" cy="895" r="13"/><text x="981" y="901">GSTM</text></g>
<g id="t4_9"><circle cx="1029" cy="895" r="13"/><text x="1029" y="901">P188</text></g>
<g id="t4_10"><circle cx="1078" cy="895" r="13"/><text x="1078" y="901">NCOA</text></g>
<g id="t4_11"><circle cx="1127" cy="895" r="13"/><text x="1127" y="901">P089</text></g>
<g id="t4_12"><circle cx="1175" cy="895" r="13"/><text x="1175" y="901">PPAR</text></g>
<g id="t4_13"><circle cx="1224" cy="895" r="13"/><text x="1224" y="901">P007</text></g>
<g id="t4_14"><circle cx="1272" cy="895" r="13"/><text x="1272" y="901">P015</text></g>
<g id="t4_15"><circle cx="1321" cy="895" r="13"/><text x="1321" y="901">Q144</text></g>
<g id="t4_16"><circle cx="1370" cy="895" r="13"/><text x="1370" y="901">F10</text></g>
<g id="t4_17"><circle cx="1418" cy="895" r="13"/><text x="1418" y="898">HSP9</text></g>
<g id="t4_18"><circle cx="1467" cy="895" r="13"/><text x="1458" y="901" class="R">PTGS2</text></g>
<g id="t5_0"><circle cx="592" cy="919" r="13"/><text x="604" y="925" class="L">KD</text></g>
<g id="t5_1"><circle cx="641" cy="919" r="13"/><text x="641" y="925">P02452</text></g>
<g id="t5_2"><circle cx="689" cy="919" r="13"/><text x="689" y="927">P1808</text></g>
<g id="t5_3"><circle cx="738" cy="919" r="13"/><text x="738" y="925">P3654</text></g>
<g id="t5_4"><circle cx="786" cy="919" r="13"/><text x="786" y="921">SLC</text></g>
<g id="t5_5"><circle cx="835" cy="919" r="13"/><text x="835" y="925">P179</text></g>
<g id="t5_6"><circle cx="884" cy="919" r="13"/><text x="884" y="925">P4843</text></g>
<g id="t5_7"><circle cx="932" cy="919" r="13"/><text x="932" y="925">P046</text></g>
<g id="t5_8"><circle cx="981" cy="919" r="13"/><text x="981" y="927">CCN2</text></g>
<g id="t5_9"><circle cx="1029" cy="919" r="13"/><text x="1029" y="925">P343</text></g>
<g id="t5_10"><circle cx="1078" cy="919" r="13"/><text x="1078" y="925">A0A</text></g>
<g id="t5_11"><circle cx="1127" cy="919" r="13"/><text x="1127" y="925">Q0199</text></g>
<g id="t5_12"><circle cx="1175" cy="919" r="13"/><text x="1175" y="925">COL</text></g>
<g id="t5_13"><circle cx="1224" cy="919" r="13"/><text x="1224" y="925">DRD1</text></g>
<g id="t5_14"><circle cx="1272" cy="919" r="13"/><text x="1272" y="925">P197</text></g>
<g id="t5_15"><circle cx="1321" cy="919" r="13"/><text x="1321" y="925">P082</text></g>
<g id="t5_16"><circle cx="1370" cy="919" r="13"/><text x="1370" y="925">C9J8</text></g>
<g id="t5_17"><circle cx="1418" cy="919" r="13"/><text x="1418" y="925">P0395</text></g>
<g id="t5_18"><circle cx="1467" cy="919" r="13"/><text x="1458" y="925" class="R">Q99527</text></g>
<g id="t6_0"><circle cx="592" cy="943" r="13"/><text x="604" y="949" class="L">P08173</text></g>
<g id="t6_1"><circle cx="641" cy="943" r="13"/><text x="641" y="949">AKR1C</text></g>
<g id="t6_2"><circle cx="689" cy="943" r="13"/><text x="689" y="949">P4816</text></g>
<g id="t6_3"><circle cx="738" cy="943" r="13"/><text x="738" y="949">Q927</text></g>
<g id="t6_4"><circle cx="786" cy="943" r="13"/><text x="786" y="945">P064</text></g>
<g id="t6_5"><circle cx="835" cy="943" r="13"/><text x="835" y="949">P35</text></g>
<g id="t6_6"><circle cx="884" cy="943" r="13"/><text x="884" y="949">P007</text></g>
<g id="t6_7"><circle cx="932" cy="943" r="13"/><text x="932" y="949">THBD</text></g>
<g id="t6_8"><circle cx="981" cy="943" r="13"/><text x="981" y="949">HSPA</text></g>
<g id="t6_9"><circle cx="1029" cy="943" r="13"/><text x="1029" y="949">F3</text></g>
<g id="t6_10"><circle cx="1078" cy="943" r="13"/><text x="1078" y="949">Q1443</text></g>
<g id="t6_11"><circle cx="1127" cy="943" r="13"/><text x="1127" y="949">P0422</text></g>
<g id="t6_12"><circle cx="1175" cy="943" r="13"/><text x="1175" y="949">PRKA</text></g>
<g id="t6_13"><circle cx="1224" cy="943" r="13"/><text x="1224" y="949">P2233</text></g>
<g id="t6_14"><circle cx="1272" cy="943" r="13"/><text x="1272" y="949">Q0G</text></g>
<g id="t6_15"><circle cx="1321" cy="943" r="13"/><text x="1321" y="949">P057</text></g>
<g id="t6_16"><circle cx="1370" cy="943" r="13"/><text x="1370" y="949">P409</text></g>
<g id="t6_17"><circle cx="1418" cy="943" r="13"/><text x="1418" y="949">MAP</text></g>
<g id="t6_18"><circle cx="1467" cy="943" r="13"/><text x="1458" y="949" class="R">P06213</text></g>
<g id="t7_0"><circle cx="592" cy="967" r="13"/><text x="604" y="973" class="L">P11021</text></g>
<g id="t7_1"><circle cx="641" cy="967" r="13"/><text x="641" y="973">P31645</text></g>
<g id="t7_2"><circle cx="689" cy="967" r="13"/><text x="689" y="973">PTGS</text></g>
<g id="t7_3"><circle cx="738" cy="967" r="13"/><text x="738" y="973">P498</text></g>
<g id="t7_4"><circle cx="786" cy="967" r="13"/><text x="786" y="973">P104</text></g>
<g id="t7_5"><circle cx="835" cy="967" r="13"/><text x="835" y="973">CYP</text></g>
<g id="t7_6"><circle cx="884" cy="967" r="13"/><text x="884" y="973">P422</text></g>
<g id="t7_7"><circle cx="932" cy="967" r="13"/><text x="932" y="973">P2823</text></g>
<g id="t7_8"><circle cx="981" cy="967" r="13"/><text x="981" y="973">P0035</text></g>
<g id="t7_9"><circle cx="1029" cy="967" r="13"/><text x="1029" y="973">GST</text></g>
<g id="t7_10"><circle cx="1078" cy="967" r="13"/><text x="1078" y="973">P0626</text></g>
<g id="t7_11"><circle cx="1127" cy="967" r="13"/><text x="1127" y="975">P041</text></g>
<g id="t7_12"><circle cx="1175" cy="967" r="13"/><text x="1175" y="973">PON1</text></g>
<g id="t7_13"><circle cx="1224" cy="967" r="13"/><text x="1224" y="973">TP53</text></g>
<g id="t7_14"><circle cx="1272" cy="967" r="13"/><text x="1272" y="973">EGFR</text></g>
<g id="t7_15"><circle cx="1321" cy="967" r="13"/><text x="1321" y="973">P070</text></g>
<g id="t7_16"><circle cx="1370" cy="967" r="13"/><text x="1370" y="973">P804</text></g>
<g id="t7_17"><circle cx="1418" cy="967" r="13"/><text x="1418" y="973">P0893</text></g>
<g id="t7_18"><circle cx="1467" cy="967" r="13"/><text x="1458" y="973" class="R">HMOX1</text></g>
<g id="t8_0"><circle cx="592" cy="991" r="13"/><text x="604" y="997" class="L">P04035</text></g>
<g id="t8_1"><circle cx="641" cy="991" r="13"/><text x="641" y="997">P23219</text></g>
<g id="t8_2"><circle cx="689" cy="991" r="13"/><text x="689" y="997">P6162</text></g>
<g id="t8_3"><circle cx="738" cy="991" r="13"/><text x="738" y="997">Q9Y5</text></g>
<g id="t8_4"><circle cx="786" cy="991" r="13"/><text x="786" y="997">P094</text></g>
<g id="t8_5"><circle cx="835" cy="991" r="13"/><text x="835" y="997">P350</text></g>
<g id="t8_6"><circle cx="884" cy="991" r="13"/><text x="884" y="997">Q019</text></g>
<g id="t8_7"><circle cx="932" cy="991" r="13"/><text x="932" y="994">Q143</text></g>
<g id="t8_8"><circle cx="981" cy="991" r="13"/><text x="981" y="997">P2397</text></g>
<g id="t8_9"><circle cx="1029" cy="991" r="13"/><text x="1029" y="997">P7847</text></g>
<g id="t8_10"><circle cx="1078" cy="991" r="13"/><text x="1078" y="997">AHR</text></g>
<g id="t8_11"><circle cx="1127" cy="991" r="13"/><text x="1127" y="997">ADR1</text></g>
<g id="t8_12"><circle cx="1175" cy="991" r="13"/><text x="1175" y="997">P082</text></g>
<g id="t8_13"><circle cx="1224" cy="991" r="13"/><text x="1224" y="997">P118</text></g>
<g id="t8_14"><circle cx="1272" cy="991" r="13"/><text x="1272" y="997">P009</text></g>
<g id="t8_15"><circle cx="1321" cy="991" r="13"/><text x="1321" y="997">P072</text></g>
<g id="t8_16"><circle cx="1370" cy="991" r="13"/><text x="1370" y="997">SOD</text></g>
<g id="t8_17"><circle cx="1418" cy="991" r="13"/><text x="1418" y="997">RB</text></g>
<g id="t8_18"><circle cx="1467" cy="991" r="13"/><text x="1458" y="997" class="R">IL</text></g>
<g id="t9_0"><circle cx="592" cy="1015" r="13"/><text x="604" y="1021" class="L">PO</text></g>
<g id="t9_1"><circle cx="641" cy="1015" r="13"/><text x="641" y="1021">Q14432</text></g>
<g id="t9_2"><circle cx="689" cy="1015" r="13"/><text x="689" y="1021">GABR</text></g>
<g id="t9_3"><circle cx="738" cy="1015" r="13"/><text x="738" y="1021">P040</text></g>
<g id="t9_4"><circle cx="786" cy="1015" r="13"/><text x="786" y="1021">P372</text></g>
<g id="t9_5"><circle cx="835" cy="1015" r="13"/><text x="835" y="1021">P112</text></g>
<g id="t9_6"><circle cx="884" cy="1015" r="13"/><text x="884" y="1021">NOS</text></g>
<g id="t9_7"><circle cx="932" cy="1015" r="13"/><text x="932" y="1021">ESR2</text></g>
<g id="t9_8"><circle cx="981" cy="1015" r="13"/><text x="981" y="1021">Q155</text></g>
<g id="t9_9"><circle cx="1029" cy="1015" r="13"/><text x="1029" y="1021">P2842</text></g>
<g id="t9_10"><circle cx="1078" cy="1015" r="13"/><text x="1078" y="1021">MAPK</text></g>
<g id="t9_11"><circle cx="1127" cy="1015" r="13"/><text x="1127" y="1021">P622</text></g>
<g id="t9_12"><circle cx="1175" cy="1015" r="13"/><text x="1175" y="1021">P420</text></g>
<g id="t9_13"><circle cx="1224" cy="1015" r="13"/><text x="1224" y="1021">P039</text></g>
<g id="t9_14"><circle cx="1272" cy="1015" r="13"/><text x="1272" y="1021">P4873</text></g>
<g id="t9_15"><circle cx="1321" cy="1015" r="13"/><text x="1321" y="1021">P033</text></g>
<g id="t9_16"><circle cx="1370" cy="1015" r="13"/><text x="1370" y="1021">Q129</text></g>
<g id="t9_17"><circle cx="1418" cy="1015" r="13"/><text x="1418" y="1021">COL1</text></g>
<g id="t9_18"><circle cx="1467" cy="1015" r="13"/><text x="1458" y="1021" class="R">P10275</text></g>
<g id="t10_0"><circle cx="592" cy="1040" r="13"/><text x="604" y="1046" class="L">P35869</text></g>
<g id="t10_1"><circle cx="641" cy="1040" r="13"/><text x="641" y="1046">DPP4</text></g>
<g id="t10_2"><circle cx="689" cy="1040" r="13"/><text x="689" y="1046">AKR1B</text></g>
<g id="t10_3"><circle cx="738" cy="1040" r="13"/><text x="738" y="1043">Q145</text></g>
<g id="t10_4"><circle cx="786" cy="1040" r="13"/><text x="786" y="1046">ACHE</text></g>
<g id="t10_5"><circle cx="835" cy="1040" r="13"/><text x="835" y="1046">LAC</text></g>
<g id="t10_6"><circle cx="884" cy="1040" r="13"/><text x="884" y="1046">Q9UN</text></g>
<g id="t10_7"><circle cx="932" cy="1040" r="13"/><text x="932" y="1046">O608</text></g>
<g id="t10_8"><circle cx="981" cy="1040" r="13"/><text x="981" y="1046">P0154</text></g>
<g id="t10_9"><circle cx="1029" cy="1040" r="13"/><text x="1029" y="1046">Q139</text></g>
<g id="t10_10"><circle cx="1078" cy="1040" r="13"/><text x="1078" y="1046">P151</text></g>
<g id="t10_11"><circle cx="1127" cy="1040" r="13"/><text x="1127" y="1046">AR</text></g>
<g id="t10_12"><circle cx="1175" cy="1040" r="13"/><text x="1175" y="1046">P0077</text></g>
<g id="t10_13"><circle cx="1224" cy="1040" r="13"/><text x="1224" y="1046">P601</text></g>
<g id="t10_14"><circle cx="1272" cy="1040" r="13"/><text x="1272" y="1046">P0241</text></g>
<g id="t10_15"><circle cx="1321" cy="1040" r="13"/><text x="1321" y="1046">CHR</text></g>
<g id="t10_16"><circle cx="1370" cy="1040" r="13"/><text x="1370" y="1046">P073</text></g>
<g id="t10_17"><circle cx="1418" cy="1040" r="13"/><text x="1418" y="1046">P1139</text></g>
<g id="t10_18"><circle cx="1467" cy="1040" r="13"/><text x="1458" y="1046" class="R">P00749</text></g>
<g id="t11_0"><circle cx="592" cy="1064" r="13"/><text x="604" y="1070" class="L">Q9H6S3</text></g>
<g id="t11_1"><circle cx="641" cy="1064" r="13"/><text x="641" y="1070">P00441</text></g>
<g id="t11_2"><circle cx="689" cy="1064" r="13"/><text x="694" y="1070">O1475</text></g>
<g id="t11_3"><circle cx="738" cy="1064" r="13"/><text x="738" y="1070">P003</text></g>
<g id="t11_4"><circle cx="786" cy="1064" r="13"/><text x="786" y="1072">Q9NR</text></g>
<g id="t11_5"><circle cx="835" cy="1064" r="13"/><text x="835" y="1070">P096</text></g>
<g id="t11_6"><circle cx="884" cy="1064" r="13"/><text x="884" y="1070">PIM1</text></g>
<g id="t11_7"><circle cx="932" cy="1064" r="13"/><text x="932" y="1070">VEG</text></g>
<g id="t11_8"><circle cx="981" cy="1064" r="13"/><text x="981" y="1070">P1137</text></g>
<g id="t11_9"><circle cx="1029" cy="1064" r="13"/><text x="1029" y="1070">ADR2</text></g>
<g id="t11_10"><circle cx="1078" cy="1064" r="13"/><text x="1078" y="1070">SCN</text></g>
<g id="t11_11"><circle cx="1127" cy="1064" r="13"/><text x="1127" y="1070">ADR1</text></g>
<g id="t11_12"><circle cx="1175" cy="1064" r="13"/><text x="1175" y="1070">Q144</text></g>
<g id="t11_13"><circle cx="1224" cy="1064" r="13"/><text x="1224" y="1070">Q075</text></g>
<g id="t11_14"><circle cx="1272" cy="1064" r="13"/><text x="1272" y="1070">KCNH</text></g>
<g id="t11_15"><circle cx="1321" cy="1064" r="13"/><text x="1321" y="1070">P084</text></g>
<g id="t11_16"><circle cx="1370" cy="1064" r="13"/><text x="1370" y="1070">Q149</text></g>
<g id="t11_17"><circle cx="1418" cy="1064" r="13"/><text x="1418" y="1070">CHR4</text></g>
<g id="t11_18"><circle cx="1467" cy="1064" r="13"/><text x="1458" y="1070" class="R">CHEK1</text></g>
<g id="t12_0"><circle cx="592" cy="1088" r="13"/><text x="604" y="1094" class="L">IFNG</text></g>
<g id="t12_1"><circle cx="641" cy="1088" r="13"/><text x="641" y="1096">P42262</text></g>
<g id="t12_2"><circle cx="689" cy="1088" r="13"/><text x="689" y="1094">P3596</text></g>
<g id="t12_3"><circle cx="738" cy="1088" r="13"/><text x="738" y="1089">O434</text></g>
<g id="t12_4"><circle cx="786" cy="1088" r="13"/><text x="786" y="1094">RXRA</text></g>
<g id="t12_5"><circle cx="835" cy="1088" r="13"/><text x="835" y="1094">P007</text></g>
<g id="t12_6"><circle cx="884" cy="1088" r="13"/><text x="884" y="1094">CTSD</text></g>
<g id="t12_7"><circle cx="932" cy="1088" r="13"/><text x="932" y="1094">P1758</text></g>
<g id="t12_8"><circle cx="981" cy="1088" r="13"/><text x="981" y="1094">P129</text></g>
<g id="t12_9"><circle cx="1029" cy="1088" r="13"/><text x="1029" y="1094">Q9Y5</text></g>
<g id="t12_10"><circle cx="1078" cy="1088" r="13"/><text x="1078" y="1094">Q9B</text></g>
<g id="t12_11"><circle cx="1127" cy="1088" r="13"/><text x="1127" y="1094">P0828</text></g>
<g id="t12_12"><circle cx="1175" cy="1088" r="13"/><text x="1175" y="1094">P453</text></g>
<g id="t12_13"><circle cx="1224" cy="1088" r="13"/><text x="1224" y="1094">P1901</text></g>
<g id="t12_14"><circle cx="1272" cy="1088" r="13"/><text x="1272" y="1094">P0A3</text></g>
<g id="t12_15"><circle cx="1321" cy="1088" r="13"/><text x="1321" y="1094">ADR</text></g>
<g id="t12_16"><circle cx="1370" cy="1088" r="13"/><text x="1370" y="1094">P113</text></g>
<g id="t12_17"><circle cx="1418" cy="1088" r="13"/><text x="1418" y="1094">P353</text></g>
<g id="t12_18"><circle cx="1467" cy="1088" r="13"/><text x="1458" y="1094" class="R">LTA4H</text></g>
<g id="t13_0"><circle cx="592" cy="1112" r="13"/><text x="604" y="1118" class="L">P83111</text></g>
<g id="t13_1"><circle cx="641" cy="1112" r="13"/><text x="641" y="1118">ADH1</text></g>
<g id="t13_2"><circle cx="689" cy="1112" r="13"/><text x="689" y="1118">P09917</text></g>
<g id="t13_3"><circle cx="738" cy="1112" r="13"/><text x="738" y="1114">F7</text></g>
<g id="t13_4"><circle cx="786" cy="1112" r="13"/><text x="786" y="1118">PTPN</text></g>
<g id="t13_5"><circle cx="835" cy="1112" r="13"/><text x="835" y="1118">P080</text></g>
<g id="t13_6"><circle cx="884" cy="1112" r="13"/><text x="884" y="1118">P353</text></g>
<g id="t13_7"><circle cx="932" cy="1112" r="13"/><text x="932" y="1118">P1196</text></g>
<g id="t13_8"><circle cx="981" cy="1112" r="13"/><text x="981" y="1118">CYP</text></g>
<g id="t13_9"><circle cx="1029" cy="1112" r="13"/><text x="1029" y="1118">P0790</text></g>
<g id="t13_10"><circle cx="1078" cy="1112" r="13"/><text x="1078" y="1118">P0747</text></g>
<g id="t13_11"><circle cx="1127" cy="1112" r="13"/><text x="1127" y="1118">P112</text></g>
<g id="t13_12"><circle cx="1175" cy="1112" r="13"/><text x="1175" y="1118">P099</text></g>
<g id="t13_13"><circle cx="1224" cy="1112" r="13"/><text x="1224" y="1118">P051</text></g>
<g id="t13_14"><circle cx="1272" cy="1112" r="13"/><text x="1272" y="1118">P1372</text></g>
<g id="t13_15"><circle cx="1321" cy="1112" r="13"/><text x="1321" y="1118">P507</text></g>
<g id="t13_16"><circle cx="1370" cy="1112" r="13"/><text x="1370" y="1118">O958</text></g>
<g id="t13_17"><circle cx="1418" cy="1112" r="13"/><text x="1418" y="1120">Q674</text></g>
<g id="t13_18"><circle cx="1467" cy="1112" r="13"/><text x="1458" y="1118" class="R">CDC2</text></g>
<g id="t14_0"><circle cx="592" cy="1136" r="13"/><text x="604" y="1142" class="L">P01375</text></g>
<g id="t14_1"><circle cx="641" cy="1136" r="13"/><text x="641" y="1142">MAP2</text></g>
<g id="t14_2"><circle cx="689" cy="1136" r="13"/><text x="689" y="1142">P2716</text></g>
<g id="t14_3"><circle cx="738" cy="1136" r="13"/><text x="738" y="1142">GSTP</text></g>
<g id="t14_4"><circle cx="786" cy="1136" r="13"/><text x="786" y="1142">NR3C</text></g>
<g id="t14_5"><circle cx="835" cy="1136" r="13"/><text x="835" y="1142">P610</text></g>
<g id="t14_6"><circle cx="884" cy="1136" r="13"/><text x="884" y="1142">P435</text></g>
<g id="t14_7"><circle cx="932" cy="1136" r="13"/><text x="932" y="1142">PDEA</text></g>
<g id="t14_8"><circle cx="981" cy="1136" r="13"/><text x="981" y="1142">Q927</text></g>
<g id="t14_9"><circle cx="1029" cy="1136" r="13"/><text x="1029" y="1142">P0542</text></g>
<g id="t14_10"><circle cx="1078" cy="1136" r="13"/><text x="1078" y="1142">P001</text></g>
<g id="t14_11"><circle cx="1127" cy="1136" r="13"/><text x="1127" y="1142">GABR</text></g>
<g id="t14_12"><circle cx="1175" cy="1136" r="13"/><text x="1175" y="1142">P142</text></g>
<g id="t14_13"><circle cx="1224" cy="1136" r="13"/><text x="1224" y="1139">P007</text></g>
<g id="t14_14"><circle cx="1272" cy="1136" r="13"/><text x="1272" y="1142">P0508</text></g>
<g id="t14_15"><circle cx="1321" cy="1136" r="13"/><text x="1321" y="1142">F2</text></g>
<g id="t14_16"><circle cx="1370" cy="1136" r="13"/><text x="1370" y="1142">PTGER</text></g>
<g id="t14_17"><circle cx="1418" cy="1136" r="13"/><text x="1418" y="1142">Q146</text></g>
<g id="t14_18"><circle cx="1467" cy="1136" r="13"/><text x="1458" y="1142" class="R">P01308</text></g>
<g id="t15_0"><circle cx="592" cy="1160" r="13"/><text x="604" y="1166" class="L">SLC6A</text></g>
<g id="t15_1"><circle cx="641" cy="1160" r="13"/><text x="641" y="1166">NQO1</text></g>
<g id="t15_2"><circle cx="689" cy="1160" r="13"/><text x="689" y="1166">Q1644</text></g>
<g id="t15_3"><circle cx="738" cy="1160" r="13"/><text x="738" y="1166">XDH</text></g>
<g id="t15_4"><circle cx="786" cy="1160" r="13"/><text x="786" y="1166">P349</text></g>
<g id="t15_5"><circle cx="835" cy="1160" r="13"/><text x="835" y="1166">P239</text></g>
<g id="t15_6"><circle cx="884" cy="1160" r="13"/><text x="884" y="1166">Q152</text></g>
<g id="t15_7"><circle cx="932" cy="1160" r="13"/><text x="932" y="1166">P0404</text></g>
<g id="t15_8"><circle cx="981" cy="1160" r="13"/><text x="981" y="1168">P161</text></g>
<g id="t15_9"><circle cx="1029" cy="1160" r="13"/><text x="1029" y="1166">CHR</text></g>
<g id="t15_10"><circle cx="1078" cy="1160" r="13"/><text x="1078" y="1166">Q0820</text></g>
<g id="t15_11"><circle cx="1127" cy="1160" r="13"/><text x="1127" y="1166">P0640</text></g>
<g id="t15_12"><circle cx="1175" cy="1160" r="13"/><text x="1175" y="1163">P552</text></g>
<g id="t15_13"><circle cx="1224" cy="1160" r="13"/><text x="1224" y="1166">P4981</text></g>
<g id="t15_14"><circle cx="1272" cy="1160" r="13"/><text x="1272" y="1166">P251</text></g>
<g id="t15_15"><circle cx="1321" cy="1160" r="13"/><text x="1321" y="1166">P0640</text></g>
<g id="t15_16"><circle cx="1370" cy="1160" r="13"/><text x="1370" y="1166">Q169</text></g>
<g id="t15_17"><circle cx="1418" cy="1160" r="13"/><text x="1418" y="1166">P156</text></g>
<g id="t15_18"><circle cx="1467" cy="1160" r="13"/><text x="1458" y="1166" class="R">P15309</text></g>
<g id="t16_0"><circle cx="592" cy="1185" r="13"/><text x="604" y="1191" class="L">P00491</text></g>
<g id="t16_1"><circle cx="641" cy="1185" r="13"/><text x="641" y="1193">P14416</text></g>
<g id="t16_2"><circle cx="689" cy="1185" r="13"/><text x="689" y="1188">NCOA</text></g>
<g id="t16_3"><circle cx="738" cy="1185" r="13"/><text x="738" y="1191">P082</text></g>
<g id="t16_4"><circle cx="786" cy="1185" r="13"/><text x="786" y="1191">P537</text></g>
<g id="t16_5"><circle cx="835" cy="1185" r="13"/><text x="835" y="1191">P057</text></g>
<g id="t16_6"><circle cx="884" cy="1185" r="13"/><text x="884" y="1191">P350</text></g>
<g id="t16_7"><circle cx="932" cy="1185" r="13"/><text x="932" y="1189">P1027</text></g>
<g id="t16_8"><circle cx="981" cy="1185" r="13"/><text x="981" y="1191">IL1B</text></g>
<g id="t16_9"><circle cx="1029" cy="1185" r="13"/><text x="1029" y="1191">P4789</text></g>
<g id="t16_10"><circle cx="1078" cy="1185" r="13"/><text x="1078" y="1191">PDE</text></g>
<g id="t16_11"><circle cx="1127" cy="1185" r="13"/><text x="1127" y="1189">CHR2</text></g>
<g id="t16_12"><circle cx="1175" cy="1185" r="13"/><text x="1175" y="1191">P0864</text></g>
<g id="t16_13"><circle cx="1224" cy="1185" r="13"/><text x="1224" y="1191">P278</text></g>
<g id="t16_14"><circle cx="1272" cy="1185" r="13"/><text x="1272" y="1191">P2028</text></g>
<g id="t16_15"><circle cx="1321" cy="1185" r="13"/><text x="1321" y="1191">P217</text></g>
<g id="t16_16"><circle cx="1370" cy="1185" r="13"/><text x="1370" y="1191">Q059</text></g>
<g id="t16_17"><circle cx="1418" cy="1185" r="13"/><text x="1418" y="1191">P112</text></g>
<g id="t16_18"><circle cx="1467" cy="1185" r="13"/><text x="1458" y="1191" class="R">P37231</text></g>
<g id="t17_0"><circle cx="592" cy="1209" r="13"/><text x="604" y="1215" class="L">P27338</text></g>
<g id="t17_1"><circle cx="641" cy="1209" r="13"/><text x="641" y="1217">MMP</text></g>
<g id="t17_2"><circle cx="689" cy="1209" r="13"/><text x="689" y="1215">Q9ULA</text></g>
<g id="t17_3"><circle cx="738" cy="1209" r="13"/><text x="738" y="1215">P0078</text></g>
<g id="t17_4"><circle cx="786" cy="1209" r="13"/><text x="786" y="1215">P316</text></g>
<g id="t17_5"><circle cx="835" cy="1209" r="13"/><text x="835" y="1215">P605</text></g>
<g id="t17_6"><circle cx="884" cy="1209" r="13"/><text x="884" y="1215">OPR</text></g>
<g id="t17_7"><circle cx="932" cy="1209" r="13"/><text x="932" y="1215">P0074</text></g>
<g id="t17_8"><circle cx="981" cy="1209" r="13"/><text x="981" y="1215">P487</text></g>
<g id="t17_9"><circle cx="1029" cy="1209" r="13"/><text x="1029" y="1215">MAOA</text></g>
<g id="t17_10"><circle cx="1078" cy="1209" r="13"/><text x="1078" y="1215">PLA</text></g>
<g id="t17_11"><circle cx="1127" cy="1209" r="13"/><text x="1127" y="1215">P0920</text></g>
<g id="t17_12"><circle cx="1175" cy="1209" r="13"/><text x="1175" y="1215">P0845</text></g>
<g id="t17_13"><circle cx="1224" cy="1209" r="13"/><text x="1224" y="1215">VCA</text></g>
<g id="t17_14"><circle cx="1272" cy="1209" r="13"/><text x="1272" y="1215">Q0109</text></g>
<g id="t17_15"><circle cx="1321" cy="1209" r="13"/><text x="1321" y="1217">P164</text></g>
<g id="t17_16"><circle cx="1370" cy="1209" r="13"/><text x="1370" y="1213">Q66K</text></g>
<g id="t17_17"><circle cx="1418" cy="1209" r="13"/><text x="1418" y="1215">P498</text></g>
<g id="t17_18"><circle cx="1467" cy="1209" r="13"/><text x="1458" y="1215" class="R">P08263</text></g>
<g id="t18_0"><circle cx="592" cy="1233" r="13"/><text x="604" y="1239" class="L">Q9H5J4</text></g>
<g id="t18_1"><circle cx="641" cy="1233" r="13"/><text x="641" y="1239">PPP3C</text></g>
<g id="t18_2"><circle cx="689" cy="1233" r="13"/><text x="689" y="1231">HSP<tspan x="689" y="1248">90AB1</tspan></text></g>
<g id="t18_3"><circle cx="738" cy="1233" r="13"/><text x="735" y="1239">NOS</text></g>
<g id="t18_4"><circle cx="786" cy="1233" r="13"/><text x="786" y="1239">P01133</text></g>
<g id="t18_5"><circle cx="835" cy="1233" r="13"/><text x="835" y="1239">CCL</text></g>
<g id="t18_6"><circle cx="884" cy="1233" r="13"/><text x="884" y="1239">P209</text></g>
<g id="t18_7"><circle cx="932" cy="1233" r="13"/><text x="932" y="1239">P0858</text></g>
<g id="t18_8"><circle cx="981" cy="1233" r="13"/><text x="981" y="1241">CA2</text></g>
<g id="t18_9"><circle cx="1029" cy="1233" r="13"/><text x="1029" y="1239">P2947</text></g>
<g id="t18_10"><circle cx="1078" cy="1233" r="13"/><text x="1078" y="1239">P163</text></g>
<g id="t18_11"><circle cx="1127" cy="1233" r="13"/><text x="1127" y="1239">P1350</text></g>
<g id="t18_12"><circle cx="1175" cy="1233" r="13"/><text x="1175" y="1239">P0521</text></g>
<g id="t18_13"><circle cx="1224" cy="1233" r="13"/><text x="1224" y="1239">JU</text></g>
<g id="t18_14"><circle cx="1272" cy="1233" r="13"/><text x="1272" y="1237">gyrB</text></g>
<g id="t18_15"><circle cx="1321" cy="1233" r="13"/><text x="1321" y="1241">Q137</text></g>
<g id="t18_16"><circle cx="1370" cy="1233" r="13"/><text x="1370" y="1239">P0851</text></g>
<g id="t18_17"><circle cx="1418" cy="1233" r="13"/><text x="1418" y="1239">P092</text></g>
<g id="t18_18"><circle cx="1467" cy="1233" r="13"/><text x="1458" y="1239" class="R">PIK3C</text></g>
<g id="t19_0"><circle cx="592" cy="1257" r="13"/><text x="604" y="1263" class="L">Q92731</text></g>
<g id="t19_1"><circle cx="641" cy="1257" r="13"/><text x="641" y="1263">P06576</text></g>
<g id="t19_2"><circle cx="689" cy="1257" r="13"/><text x="689" y="1265">P0075</text></g>
<g id="t19_3"><circle cx="738" cy="1257" r="13"/><text x="738" y="1263">ALOX</text></g>
<g id="t19_4"><circle cx="786" cy="1257" r="13"/><text x="786" y="1261">PLA</text></g>
<g id="t19_5"><circle cx="835" cy="1257" r="13"/><text x="835" y="1265">P155</text></g>
<g id="t19_6"><circle cx="884" cy="1257" r="13"/><text x="884" y="1263">TOP1</text></g>
<g id="t19_7"><circle cx="932" cy="1257" r="13"/><text x="932" y="1263">TOP2</text></g>
<g id="t19_8"><circle cx="981" cy="1257" r="13"/><text x="981" y="1263">P1943</text></g>
<g id="t19_9"><circle cx="1029" cy="1257" r="13"/><text x="1029" y="1263">Q05581</text></g>
</g>
</svg>
